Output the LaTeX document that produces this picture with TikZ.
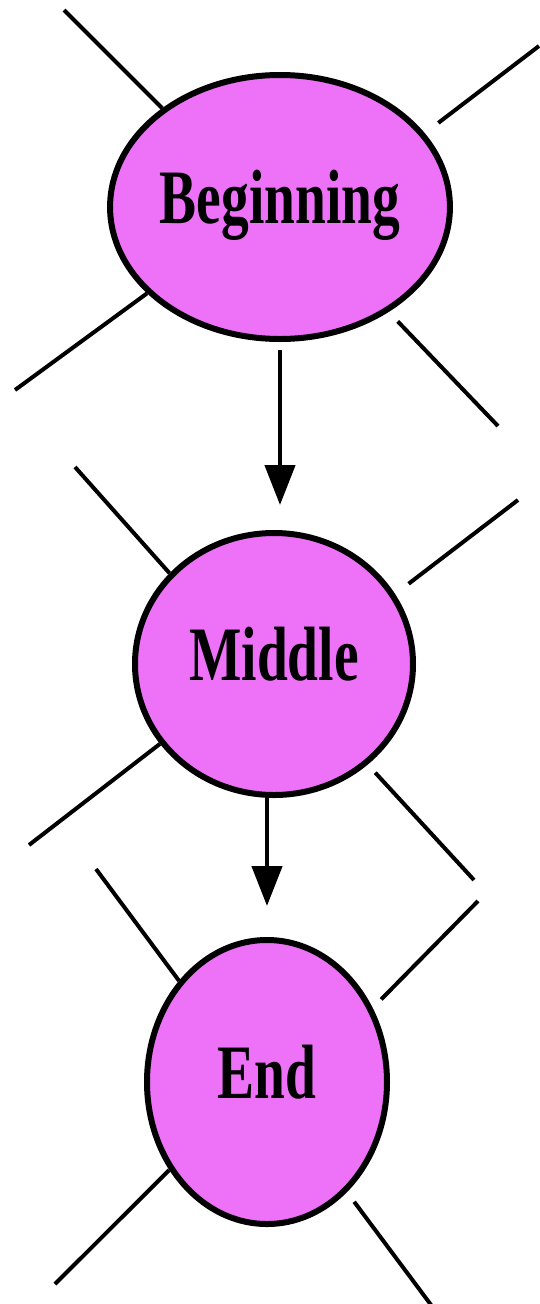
\documentclass[tikz,border=0pt]{standalone}
\usepackage{fontspec}
\setmainfont{Liberation Serif}
\usetikzlibrary{shapes.geometric,arrows.meta}
\definecolor{stagepink}{RGB}{237,114,248}
\newcommand{\narrowtext}[1]{\scalebox{0.72}[1]{#1}}
\tikzset{
  stage/.style={ellipse, draw=black, line width=6pt, fill=stagepink, inner sep=0pt,
    font=\bfseries\fontsize{77}{80}\selectfont, text height=53pt, text depth=20pt},
  spoke/.style={line width=4pt},
  flow/.style={line width=4.5pt, -{Triangle[length=40pt,width=30pt]}}
}

\begin{document}
\begin{tikzpicture}[x=1pt,y=-1pt]
        \useasboundingbox (0,0) rectangle (539,1304);
        % the three stages
        \node[stage, minimum width=304pt, minimum height=264pt] (begin) at (280,207) {\narrowtext{Beginning}};
        \node[stage, minimum width=278pt, minimum height=262pt] (middle) at (274,664) {\narrowtext{Middle}};
        \node[stage, minimum width=240pt, minimum height=284pt] (end) at (267,1082) {\narrowtext{End}};
        % free ends of the spokes
        \coordinate (b-ul) at (64,10);
        \coordinate (b-ur) at (539,46);
        \coordinate (b-ll) at (15,390);
        \coordinate (b-lr) at (498,426);
        \coordinate (m-ul) at (75,467);
        \coordinate (m-ur) at (518,500);
        \coordinate (m-ll) at (29,845);
        \coordinate (m-lr) at (474,880);
        \coordinate (e-ul) at (96,869);
        \coordinate (e-ur) at (478,901);
        \coordinate (e-ll) at (55,1284);
        \coordinate (e-lr) at (440,1317);
        % spokes
        \draw[spoke] (b-ul) -- (begin.140);
        \draw[spoke, shorten >=17pt] (b-ur) -- (begin.27);
        \draw[spoke] (b-ll) -- (begin.213);
        \draw[spoke, shorten >=13pt] (b-lr) -- (begin.316);
        \draw[spoke] (m-ul) -- (middle.139);
        \draw[spoke, shorten >=17pt] (m-ur) -- (middle.30);
        \draw[spoke] (m-ll) -- (middle.215);
        \draw[spoke, shorten >=11pt] (m-lr) -- (middle.313);
        \draw[spoke] (e-ul) -- (end.131);
        \draw[spoke, shorten >=12pt] (e-ur) -- (end.35);
        \draw[spoke] (e-ll) -- (end.222);
        \draw[spoke, shorten >=12pt] (e-lr) -- (end.306);
        % flow
        \draw[flow, shorten <=8pt, shorten >=25pt] (begin.south) -- (begin.south |- middle.north);
        \draw[flow, shorten >=31pt] (end.north |- middle.south) -- (end.north);
    \end{tikzpicture}
\end{document}
